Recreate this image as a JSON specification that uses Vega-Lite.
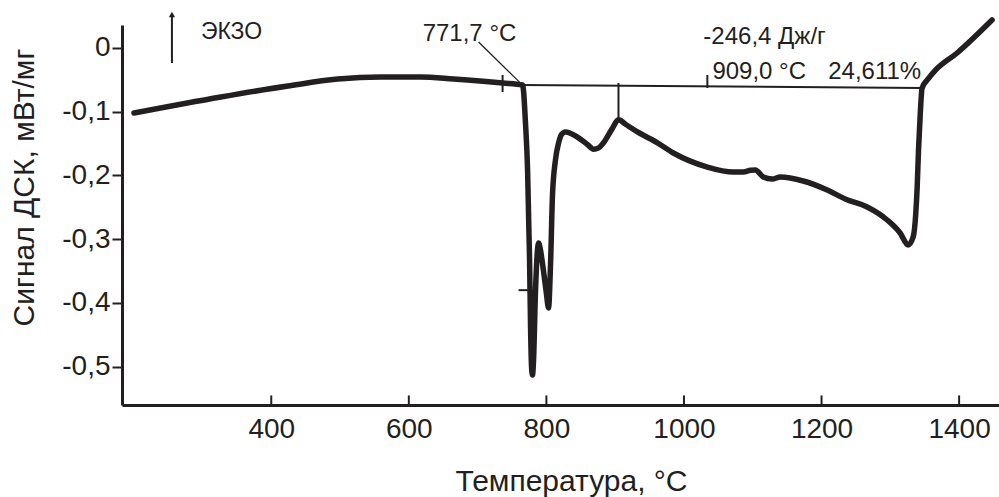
{
  "$schema": "https://vega.github.io/schema/vega-lite/v6.json",
  "width": 877,
  "height": 380,
  "autosize": {"type": "none"},
  "padding": {"left": 122, "top": 25, "right": 0, "bottom": 92},
  "background": "white",
  "config": {"view": {"stroke": null}, "font": "Liberation Sans"},
  "datasets": {
    "curve": [
      {"T": 200.4, "v": -0.1024}, {"T": 326.8, "v": -0.0773}, {"T": 424.1, "v": -0.06},
      {"T": 496.7, "v": -0.0491}, {"T": 559.1, "v": -0.0459}, {"T": 617.2, "v": -0.0459},
      {"T": 665.1, "v": -0.0491}, {"T": 736.3, "v": -0.0553}, {"T": 765.3, "v": -0.0585},
      {"T": 769.7, "v": -0.12}, {"T": 772.6, "v": -0.19}, {"T": 775.5, "v": -0.33},
      {"T": 777.0, "v": -0.44}, {"T": 778.4, "v": -0.5}, {"T": 779.8, "v": -0.513},
      {"T": 781.3, "v": -0.49}, {"T": 784.2, "v": -0.38}, {"T": 786.5, "v": -0.325},
      {"T": 788.6, "v": -0.306}, {"T": 791.0, "v": -0.315}, {"T": 795.8, "v": -0.35},
      {"T": 800.0, "v": -0.385}, {"T": 803.1, "v": -0.408}, {"T": 806.0, "v": -0.34},
      {"T": 808.9, "v": -0.23}, {"T": 813.3, "v": -0.175}, {"T": 818.0, "v": -0.148},
      {"T": 822.0, "v": -0.136}, {"T": 827.8, "v": -0.132}, {"T": 845.2, "v": -0.14},
      {"T": 860.0, "v": -0.152}, {"T": 868.5, "v": -0.159}, {"T": 876.0, "v": -0.157},
      {"T": 883.0, "v": -0.149}, {"T": 895.0, "v": -0.128}, {"T": 904.8, "v": -0.113},
      {"T": 915.0, "v": -0.12}, {"T": 932.4, "v": -0.132}, {"T": 961.4, "v": -0.149},
      {"T": 984.6, "v": -0.165}, {"T": 1034.0, "v": -0.187}, {"T": 1071.8, "v": -0.1948},
      {"T": 1086.3, "v": -0.1948}, {"T": 1097.0, "v": -0.192}, {"T": 1103.7, "v": -0.1917},
      {"T": 1115.3, "v": -0.2026}, {"T": 1128.4, "v": -0.2058}, {"T": 1140.0, "v": -0.2026},
      {"T": 1173.4, "v": -0.2089}, {"T": 1208.3, "v": -0.223}, {"T": 1234.4, "v": -0.2371},
      {"T": 1266.4, "v": -0.2497}, {"T": 1295.4, "v": -0.27}, {"T": 1314.3, "v": -0.2904},
      {"T": 1325.9, "v": -0.3092}, {"T": 1333.2, "v": -0.2967}, {"T": 1337.0, "v": -0.26},
      {"T": 1339.0, "v": -0.22}, {"T": 1341.0, "v": -0.16}, {"T": 1343.3, "v": -0.1086},
      {"T": 1346.2, "v": -0.0632}, {"T": 1355.0, "v": -0.049}, {"T": 1365.0, "v": -0.036},
      {"T": 1397.1, "v": -0.0083}, {"T": 1447.9, "v": 0.0434}
    ],
    "segments": [
      {"T": 701.4, "v": 0.0089, "T2": 762.4, "v2": -0.0555, "w": 1.3},
      {"T": 762.4, "v": -0.0585, "T2": 1346.2, "v2": -0.0632, "w": 2},
      {"T": 736.3, "v": -0.0428, "T2": 736.3, "v2": -0.0694, "w": 2},
      {"T": 904.8, "v": -0.0553, "T2": 904.8, "v2": -0.1133, "w": 2},
      {"T": 1034.0, "v": -0.0428, "T2": 1034.0, "v2": -0.0632, "w": 2},
      {"T": 759.5, "v": -0.38, "T2": 777.0, "v2": -0.38, "w": 2},
      {"T": 255.6, "v": -0.024, "T2": 255.6, "v2": 0.05, "w": 2},
      {"T": 400, "v": -0.56, "T2": 400, "v2": -0.545, "w": 2},
      {"T": 600, "v": -0.56, "T2": 600, "v2": -0.545, "w": 2},
      {"T": 800, "v": -0.56, "T2": 800, "v2": -0.545, "w": 2},
      {"T": 1000, "v": -0.56, "T2": 1000, "v2": -0.545, "w": 2},
      {"T": 1200, "v": -0.56, "T2": 1200, "v2": -0.545, "w": 2},
      {"T": 1400, "v": -0.56, "T2": 1400, "v2": -0.545, "w": 2}
    ],
    "arrow": [{"T": 255.6, "v": 0.052}],
    "labels": [
      {"T": 297.7, "v": 0.013, "label": "ЭКЗО", "s": 23},
      {"T": 620.1, "v": 0.011, "label": "771,7 °C", "s": 24},
      {"T": 1028.2, "v": 0.0058, "label": "-246,4 Дж/г", "s": 24},
      {"T": 1041.3, "v": -0.049, "label": "909,0 °C", "s": 24},
      {"T": 1209.7, "v": -0.049, "label": "24,611%", "s": 24}
    ]
  },
  "encoding": {
    "x": {
      "field": "T", "type": "quantitative",
      "scale": {"domain": [183, 1458], "nice": false, "zero": false},
      "axis": {
        "values": [400, 600, 800, 1000, 1200, 1400],
        "format": "d",
        "grid": false, "ticks": false,
        "domainColor": "#231f20", "domainWidth": 3,
        "labelFont": "Liberation Sans", "labelFontSize": 28, "labelColor": "#231f20",
        "labelBaseline": "alphabetic", "labelPadding": 32, "labelFlush": false,
        "title": "Температура, °C",
        "titleFont": "Liberation Sans", "titleFontSize": 30, "titleFontWeight": "normal",
        "titleColor": "#231f20", "titleBaseline": "alphabetic",
        "titleX": 449, "titleY": 85
      }
    },
    "y": {
      "field": "v", "type": "quantitative",
      "scale": {"domain": [-0.56, 0.0356], "nice": false, "zero": false},
      "axis": {
        "values": [0, -0.1, -0.2, -0.3, -0.4, -0.5],
        "labelExpr": "datum.value == 0 ? '0' : '-0,' + round(-datum.value * 10)",
        "grid": false,
        "domainColor": "#231f20", "domainWidth": 3,
        "tickColor": "#231f20", "tickWidth": 2, "tickSize": 10,
        "labelFont": "Liberation Sans", "labelFontSize": 28, "labelColor": "#231f20",
        "labelPadding": 2, "labelBaseline": "middle",
        "title": "Сигнал ДСК, мВт/мг",
        "titleFont": "Liberation Sans", "titleFontSize": 30, "titleFontWeight": "normal",
        "titleColor": "#231f20", "titleBaseline": "alphabetic", "titleAlign": "center",
        "titleX": -89, "titleY": 162
      }
    }
  },
  "layer": [
    {
      "data": {"name": "curve"},
      "mark": {"type": "line", "color": "#231f20", "strokeWidth": 5.5, "interpolate": "monotone", "strokeCap": "round", "strokeJoin": "round", "clip": false}
    },
    {
      "data": {"name": "segments"},
      "mark": {"type": "rule", "color": "#231f20"},
      "encoding": {
        "x2": {"field": "T2"},
        "y2": {"field": "v2"},
        "strokeWidth": {"field": "w", "type": "quantitative", "scale": null}
      }
    },
    {
      "data": {"name": "arrow"},
      "mark": {"type": "point", "shape": "triangle-up", "filled": true, "size": 40, "color": "#231f20", "opacity": 1}
    },
    {
      "data": {"name": "labels"},
      "mark": {"type": "text", "align": "left", "baseline": "alphabetic", "color": "#231f20", "font": "Liberation Sans"},
      "encoding": {
        "text": {"field": "label"},
        "size": {"field": "s", "type": "quantitative", "scale": null}
      }
    }
  ]
}
